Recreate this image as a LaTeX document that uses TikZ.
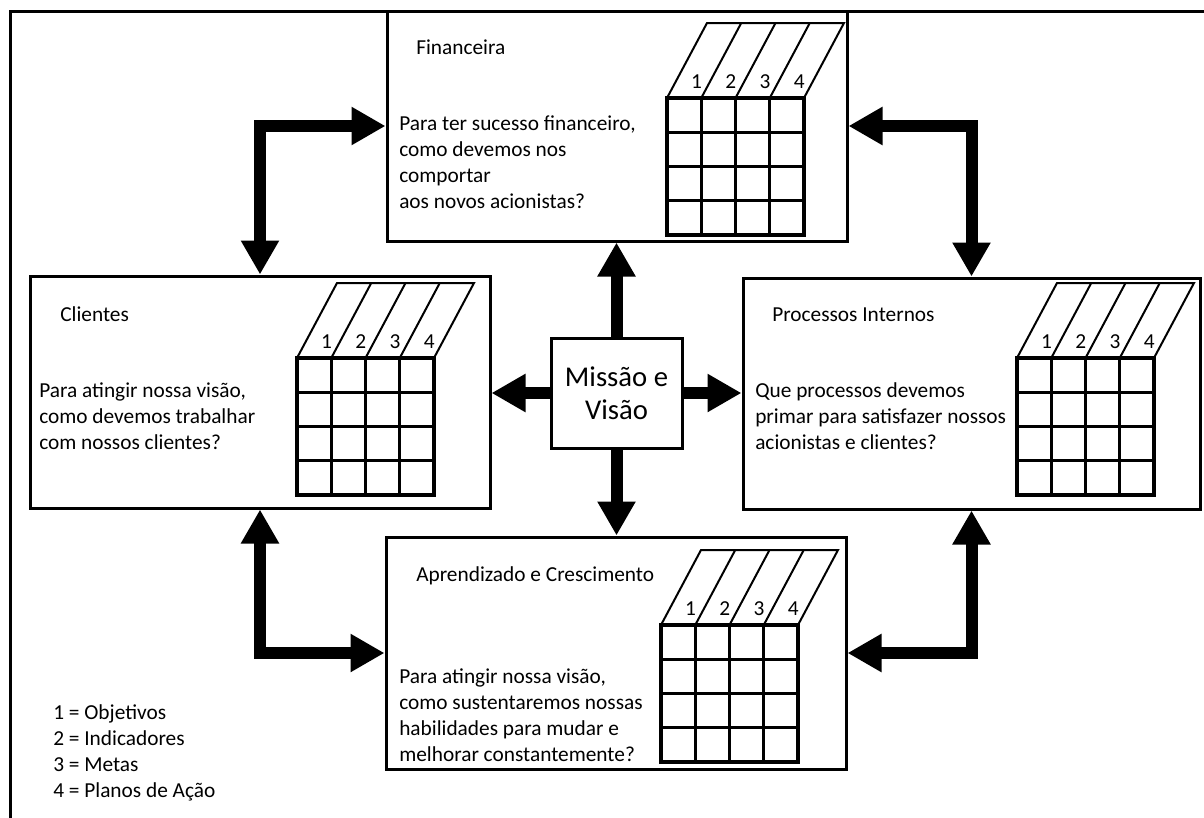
\documentclass[tikz,border=0pt]{standalone}
\usepackage{fontspec}
\setmainfont{Carlito}
\usetikzlibrary{arrows.meta}
\begin{document}
\begin{tikzpicture}[x=0.75pt,y=-0.75pt,
  panel/.style={draw,line width=2.25pt,inner sep=0pt},
  txt/.style={font=\fontsize{16}{19.4}\selectfont,align=left,anchor=base west,inner sep=0pt},
  gridline/.style={line width=2.4pt},
  topline/.style={line width=1.5pt,line join=miter},
  digit/.style={font=\fontsize{16}{19}\selectfont,anchor=base,inner sep=0pt},
  bigtip/.tip={Triangle[width=27pt,length=25.5pt]},
  flow/.style={line width=9pt,-bigtip},
  link/.style={line width=9pt,line join=miter,bigtip-bigtip},
  frame/.style={line width=2.25pt,line join=miter},
  mat/.pic={
    \draw[gridline] (0,0) rectangle (137,137);
    \foreach \k in {1,2,3} {
      \draw[gridline] (\k*34.25,0) -- (\k*34.25,137);
      \draw[gridline] (0,\k*34.25) -- (137,\k*34.25);
    }
    \draw[topline] (0,0) -- (40,-75) -- (177,-75) -- (137,0);
    \foreach \k in {1,2,3} \draw[topline] (\k*34.25,0) -- (\k*34.25+40,-75);
    \foreach \k in {1,...,4} \node[digit] (-d\k) at (29.5+34.25*\k-34.25,-10) {\k};
  }
]
\useasboundingbox (0,0) rectangle (1204,818);

% outer frame (open on the right and bottom)
\coordinate (fb) at (10,818);
\coordinate (fc) at (10,11);
\coordinate (fr) at (1204,11);
\draw[frame] (fb) -- (fc) -- (fr);

% perspective panels
\node[panel,minimum width=345pt,minimum height=172.5pt] (F) at (617,126) {};
\node[panel,minimum width=345pt,minimum height=174pt] (C) at (260,392) {};
\node[panel,minimum width=342.75pt,minimum height=173.25pt] (P) at (971.5,393.5) {};
\node[panel,minimum width=345pt,minimum height=174pt] (A) at (616,653) {};
\node[panel,minimum width=98.25pt,minimum height=82.5pt,
      font=\fontsize{21.5}{24.75}\selectfont,align=center] (M) at (616.5,393) {Missão e\\Visão};

% indicator matrices
\pic (gF) at (667,98) {mat};
\pic (gC) at (297,358) {mat};
\pic (gP) at (1017,358) {mat};
\pic (gA) at (661,625) {mat};

% headings and questions (multi-line texts sit on their last baseline)
\node[txt] (tF) at (416,54) {Financeira};
\node[txt] (qF) at (399,208) {Para ter sucesso financeiro,\\como devemos nos\\comportar\\aos novos acionistas?};
\node[txt] (tC) at (60,321) {Clientes};
\node[txt] (qC) at (39,449) {Para atingir nossa visão,\\como devemos trabalhar\\com nossos clientes?};
\node[txt] (tP) at (772,321) {Processos Internos};
\node[txt] (qP) at (755,449) {Que processos devemos\\primar para satisfazer nossos\\acionistas e clientes?};
\node[txt] (tA) at (416,581) {Aprendizado e Crescimento};
\node[txt] (qA) at (399,761) {Para atingir nossa visão,\\como sustentaremos nossas\\habilidades para mudar e\\melhorar constantemente?};

% legend
\node[txt] (leg) at (53,797) {1 = Objetivos\\2 = Indicadores\\3 = Metas\\4 = Planos de Ação};

% arrows from the mission
\draw[flow] (M.north) -- (M.north |- F.south);
\draw[flow] (M.south) -- (M.south |- A.north);
\draw[flow] (M.west) -- (M.west -| C.east);
\draw[flow] (M.east) -- (M.east -| P.west);

% links between neighbouring perspectives
\draw[link] (F.west) -| (C.north);
\draw[link] (F.east) -| (P.north);
\draw[link] (C.south) |- (A.west);
\draw[link] (P.south) |- (A.east);
\end{tikzpicture}
\end{document}
